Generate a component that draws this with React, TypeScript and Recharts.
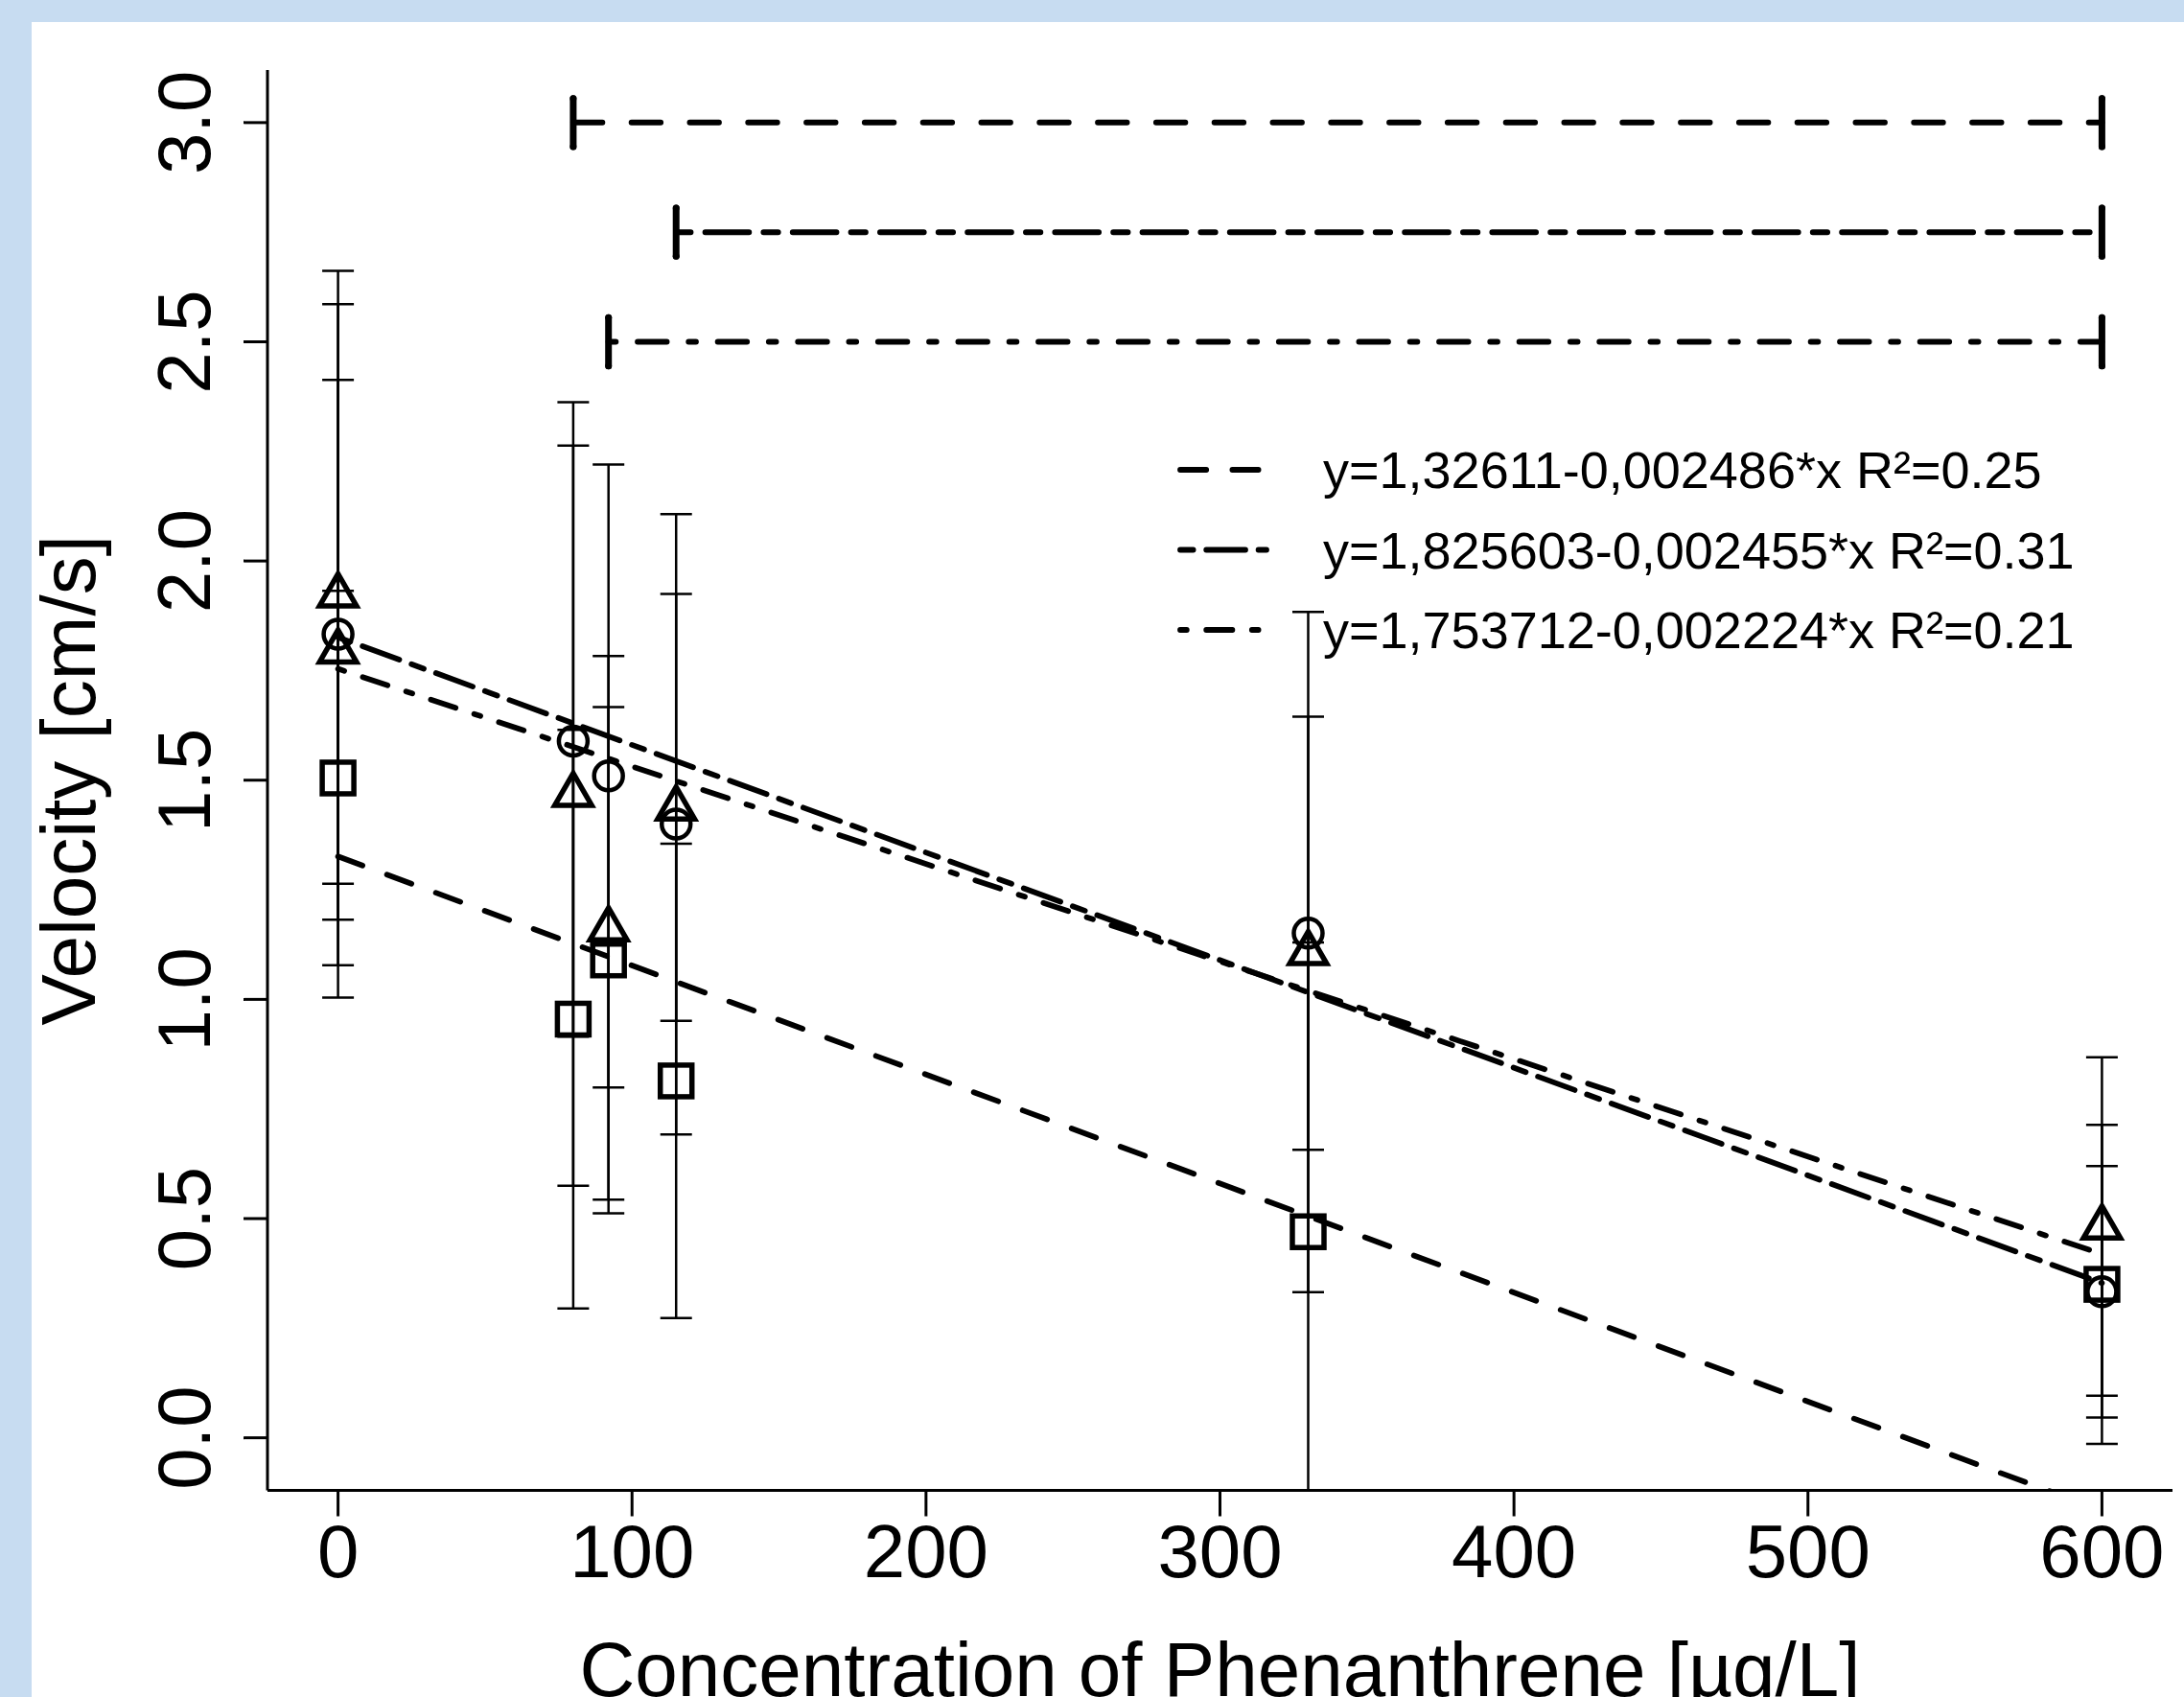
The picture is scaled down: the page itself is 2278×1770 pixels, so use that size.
import React from "react";
import { ComposedChart, Scatter, Line, XAxis, YAxis, ErrorBar, Legend } from "recharts";

// concentrations (µg/L) and mean velocities (cm/s) with error bar bounds
const squareX = [0, 80, 92, 115, 330, 600];
const squareY = [1.505, 0.955, 1.09, 0.814, 0.47, 0.35];
const squareLo = [1.078, 0.295, 0.512, 0.273, -0.19, -0.014];
const squareHi = [1.932, 1.615, 1.667, 1.355, 1.13, 0.714];

const circleX = [0, 80, 92, 115, 330, 600];
const circleY = [1.833, 1.589, 1.51, 1.4, 1.151, 0.333];
const circleLo = [1.004, 0.915, 0.799, 0.692, 0.657, 0.046];
const circleHi = [2.662, 2.263, 2.22, 2.107, 1.645, 0.62];

const triangleX = [0, 0, 80, 92, 115, 330, 600];
const triangleY = [1.922, 1.794, 1.467, 1.16, 1.436, 1.106, 0.48];
const triangleLo = [1.264, 1.182, 0.575, 0.543, 0.951, 0.332, 0.096];
const triangleHi = [2.586, 2.413, 2.362, 1.783, 1.925, 1.884, 0.868];

// regression lines: value at x=0 and at x=600
const fitX = [0, 600];
const fitStart = [1.326, 1.826, 1.754];
const fitEnd = [-0.166, 0.353, 0.419];
const fitLabels = [
  "y=1,32611-0,002486*x R²=0.25",
  "y=1,825603-0,002455*x R²=0.31",
  "y=1,753712-0,002224*x R²=0.21",
];

// significance bars at the top
const sigFrom = [80, 115, 92];
const sigTo = [600, 600, 600];
const sigLevel = [3.0, 2.75, 2.5];

const xTicks = [0, 100, 200, 300, 400, 500, 600];
const yTicks = [0, 0.5, 1, 1.5, 2, 2.5, 3];

const FONT = "'Liberation Sans', Arial, sans-serif";
const W = 2278;
const H = 1770;
const PLOT_LEFT = 279;
const PLOT_TOP = 73;
const PLOT_RIGHT = 2266;
const PLOT_BOTTOM = 1554.5;
const X_AXIS_H = 150;
const X_DOMAIN = [-24, 624];
const Y_DOMAIN = [-0.12, 3.12];

// R line types (dashed, twodash, dotdash) with round caps
const sigDash = ["30.4 30.4", "15.2 15.2 45.6 15.2", "7.6 22.8 30.4 22.8"];
const fitDash = ["27.2 27.2", "13.6 13.6 40.8 13.6", "6.8 20.4 27.2 20.4"];
const SIG_TICK = 0.055;

// error bars are cut at the bottom of the plotting region, like the original
const toPoints = (xs: number[], ys: number[], lo: number[], hi: number[]) =>
  xs.map((x, i) => {
    const low = Math.max(lo[i], Y_DOMAIN[0]);
    const high = Math.min(hi[i], Y_DOMAIN[1]);
    return { x, y: ys[i], err: [ys[i] - low, high - ys[i]] };
  });

const squares = toPoints(squareX, squareY, squareLo, squareHi);
const circles = toPoints(circleX, circleY, circleLo, circleHi);
const triangles = toPoints(triangleX, triangleY, triangleLo, triangleHi);

const fits = fitStart.map((s, i) => [
  { x: fitX[0], y: s },
  { x: fitX[1], y: fitEnd[i] },
]);

const sigBars = sigLevel.map((lvl, i) => [
  { x: sigFrom[i], y: lvl, tick: SIG_TICK },
  { x: sigTo[i], y: lvl, tick: SIG_TICK },
]);

const SquareMark = (p: any) => (
  <rect x={p.cx - 16.5} y={p.cy - 16.5} width={33} height={33} fill="none" stroke="#000" strokeWidth={5.5} />
);
const CircleMark = (p: any) => (
  <circle cx={p.cx} cy={p.cy} r={15} fill="none" stroke="#000" strokeWidth={4.5} />
);
const TriangleMark = (p: any) => {
  const s = 14.3;
  const d = `M${p.cx},${p.cy - 1.555 * s}L${p.cx + 1.347 * s},${p.cy + 0.778 * s}L${p.cx - 1.347 * s},${p.cy + 0.778 * s}Z`;
  return <path d={d} fill="none" stroke="#000" strokeWidth={5.5} strokeLinejoin="miter" />;
};

const XTick = (p: any) => (
  <text x={p.x} y={p.y + 57} textAnchor="middle" fontSize={78} fontFamily={FONT} fill="#000">
    {p.payload.value}
  </text>
);

const YTick = (p: any) => (
  <text
    x={p.x}
    y={p.y}
    transform={`rotate(-90, ${p.x}, ${p.y})`}
    textAnchor="middle"
    fontSize={78}
    fontFamily={FONT}
    fill="#000"
  >
    {Number(p.payload.value).toFixed(1)}
  </text>
);

const XTitle = () => (
  <text x={(PLOT_LEFT + PLOT_RIGHT) / 2} y={1769} textAnchor="middle" fontSize={80} fontFamily={FONT} fill="#000">
    Concentration of Phenanthrene [µg/L]
  </text>
);

const YTitle = () => {
  const cy = (PLOT_TOP + PLOT_BOTTOM) / 2;
  return (
    <text x={99} y={cy} transform={`rotate(-90, 99, ${cy})`} textAnchor="middle" fontSize={80} fontFamily={FONT} fill="#000">
      Velocity [cm/s]
    </text>
  );
};

const FitLegend = () => (
  <svg width={1000} height={300} style={{ overflow: "visible" }}>
    {fitLabels.map((label, i) => {
      const cy = 90 + i * 83.5;
      return (
        <g key={label}>
          <line
            x1={31}
            x2={121}
            y1={cy}
            y2={cy}
            stroke="#000"
            strokeWidth={5.8}
            strokeLinecap="round"
            strokeDasharray={fitDash[i]}
          />
          <text x={180} y={cy + 19} fontSize={54} fontFamily={FONT} fill="#000">
            {label}
          </text>
        </g>
      );
    })}
  </svg>
);

export default function App() {
  return (
    <div style={{ position: "absolute", left: 0, top: 0, width: W, height: H, background: "#c7dcf1", overflow: "hidden", fontFamily: FONT }}>
      <div style={{ position: "absolute", left: 33, top: 23, right: 0, bottom: 0, background: "#fff" }} />
      <div style={{ position: "absolute", left: 0, top: 0 }}>
        <ComposedChart
          width={W}
          height={H}
          margin={{ top: PLOT_TOP, right: W - PLOT_RIGHT, left: 0, bottom: H - PLOT_BOTTOM - X_AXIS_H }}
        >
          <XAxis
            type="number"
            dataKey="x"
            domain={X_DOMAIN}
            ticks={xTicks}
            interval={0}
            allowDataOverflow
            height={X_AXIS_H}
            tickSize={27}
            tickMargin={6}
            axisLine={{ stroke: "#000", strokeWidth: 3 }}
            tickLine={{ stroke: "#000", strokeWidth: 3 }}
            tick={<XTick />}
            label={{ content: XTitle }}
          />
          <YAxis
            type="number"
            domain={Y_DOMAIN}
            ticks={yTicks}
            interval={0}
            allowDataOverflow
            width={PLOT_LEFT}
            tickSize={25}
            tickMargin={35}
            axisLine={{ stroke: "#000", strokeWidth: 3 }}
            tickLine={{ stroke: "#000", strokeWidth: 3 }}
            tick={<YTick />}
            label={{ content: YTitle }}
          />
          <Legend
            layout="vertical"
            align="center"
            verticalAlign="middle"
            content={<FitLegend />}
            wrapperStyle={{ position: "absolute", left: 1200, top: 400, width: 1000, height: 300 }}
          />
          <Scatter data={squares} dataKey="y" shape={SquareMark} isAnimationActive={false} legendType="none">
            <ErrorBar dataKey="err" direction="y" width={16.5} stroke="#000" strokeWidth={2.5} />
          </Scatter>
          <Scatter data={circles} dataKey="y" shape={CircleMark} isAnimationActive={false} legendType="none">
            <ErrorBar dataKey="err" direction="y" width={16.5} stroke="#000" strokeWidth={2.5} />
          </Scatter>
          <Scatter data={triangles} dataKey="y" shape={TriangleMark} isAnimationActive={false} legendType="none">
            <ErrorBar dataKey="err" direction="y" width={16.5} stroke="#000" strokeWidth={2.5} />
          </Scatter>
          {fits.map((d, i) => (
            <Line
              key={`fit${i}`}
              data={d}
              dataKey="y"
              type="linear"
              stroke="#000"
              strokeWidth={5.8}
              strokeLinecap="round"
              strokeDasharray={fitDash[i]}
              dot={false}
              activeDot={false}
              legendType="none"
              isAnimationActive={false}
            />
          ))}
          {sigBars.map((d, i) => (
            <Line
              key={`sig${i}`}
              data={d}
              dataKey="y"
              type="linear"
              stroke="#000"
              strokeWidth={6}
              strokeLinecap="round"
              strokeDasharray={sigDash[i]}
              dot={false}
              activeDot={false}
              legendType="none"
              isAnimationActive={false}
            >
              <ErrorBar dataKey="tick" direction="y" width={0} stroke="#000" strokeWidth={7} strokeLinecap="round" />
            </Line>
          ))}
        </ComposedChart>
      </div>
    </div>
  );
}
